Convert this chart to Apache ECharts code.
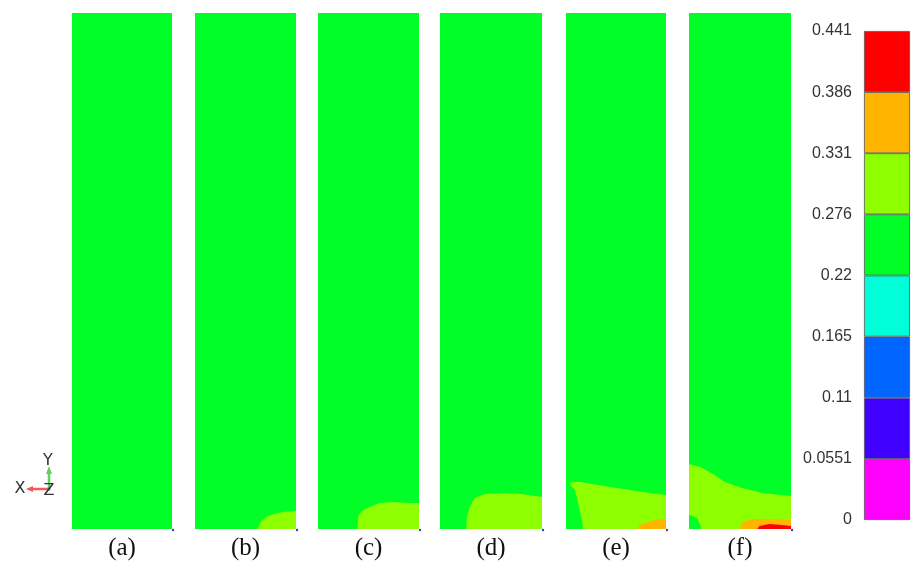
<!DOCTYPE html>
<html>
<head>
<meta charset="utf-8">
<script src="https://cdn.jsdelivr.net/npm/echarts@6/dist/echarts.min.js"></script>
<style>html,body{margin:0;padding:0;background:#fff;}#c{width:913px;height:561px;}</style>
</head>
<body>
<div id="c"></div>
<script>
// ---- data ----
const panelNames = ['(a)', '(b)', '(c)', '(d)', '(e)', '(f)'];
const tickLabels = ['0', '0.0551', '0.11', '0.165', '0.22', '0.276', '0.331', '0.386', '0.441'];
const bandColors = ['#FF00FF', '#4000FF', '#0066FF', '#00FFD9', '#00FF26', '#8EFF00', '#FFB400', '#FF0000'];
const bandCount = [1, 1, 1, 1, 1, 1, 1, 1];
// contour region boundaries, panel units: x 0..100 across, y 0..516 up from bottom
const baseRect = [[0, 0], [100, 0], [100, 516], [0, 516]];
const baseLevel = 4;
const bYellow = [[62, 0], [65, 7], [70, 12], [78, 15], [87, 17], [100, 18], [100, 0]];
const cYellow = [[39, 0], [40, 14], [45, 19], [51, 22], [61, 26], [74, 27], [91, 26], [100, 26], [100, 0]];
const dYellow = [[26, 0], [26, 9], [29, 22], [34, 31], [44, 35], [64, 36], [80, 35], [100, 32], [100, 0]];
const eYellow = [[17, 0], [16, 9], [12, 26], [9, 39], [5, 43], [4, 46], [7, 47], [14, 47], [44, 42], [77, 37], [100, 34], [100, 0]];
const eOrange = [[72, 0], [74, 4], [79, 6], [89, 9], [100, 10], [100, 0]];
const fYellow = [[0, 65], [11, 62], [22, 56], [35, 47], [52, 41], [72, 36], [100, 33], [100, 0], [12, 0], [11, 4], [8, 11], [1, 14], [0, 14]];
const fOrange = [[50, 0], [51, 4], [53, 7], [62, 10], [81, 10], [100, 9], [100, 0]];
const fRed = [[67, 0], [69, 3], [79, 5], [91, 4], [100, 3], [100, 0]];
const panelRegions = [
  [],
  [[5, bYellow]],
  [[5, cYellow]],
  [[5, dYellow]],
  [[5, eYellow], [6, eOrange]],
  [[5, fYellow], [6, fOrange], [7, fRed]]
];

// ---- layout ----
const panelBoxes = [[72, 100], [195, 101], [318, 101], [440, 102], [566, 100], [689, 102]];
const panelTop = 13, panelH = 516;

const chart = echarts.init(document.getElementById('c'), null, {renderer: 'canvas'});
const grid = [], xAxis = [], yAxis = [], series = [];
panelBoxes.forEach((b, i) => {
  grid.push({left: b[0], top: panelTop, width: b[1], height: panelH, show: false, containLabel: false, outerBoundsMode: 'none'});
  xAxis.push({
    gridIndex: i, type: 'value', min: 0, max: 100, show: true,
    axisLine: {show: false}, axisTick: {show: false}, axisLabel: {show: false}, splitLine: {show: false},
    name: panelNames[i], nameLocation: 'middle', nameGap: 7,
    nameTextStyle: {fontSize: 25, fontFamily: 'Liberation Serif', color: '#111'}
  });
  yAxis.push({gridIndex: i, type: 'value', min: 0, max: 516, show: false});
  const regs = [[baseLevel, baseRect]].concat(panelRegions[i]);
  series.push({
    type: 'custom', xAxisIndex: i, yAxisIndex: i, coordinateSystem: 'cartesian2d', silent: true,
    clip: true,
    data: regs.map((r, k) => [50, 258, k]),
    renderItem: function (params, api) {
      const r = regs[params.dataIndex];
      return {
        type: 'polygon',
        shape: {points: r[1].map(p => api.coord(p))},
        style: {fill: bandColors[r[0]], stroke: null}
      };
    }
  });
});
// colour bar
const cbIdx = panelBoxes.length;
grid.push({left: 864, top: 31, width: 46, height: 489, show: false, containLabel: false, outerBoundsMode: 'none'});
xAxis.push({gridIndex: cbIdx, type: 'category', data: [''], show: false});
yAxis.push({
  gridIndex: cbIdx, type: 'value', min: 0, max: 8, interval: 1, position: 'left',
  axisLine: {show: false}, axisTick: {show: false}, splitLine: {show: false},
  axisLabel: {
    fontSize: 16, color: '#333', fontFamily: 'Liberation Sans', margin: 12,
    formatter: v => tickLabels[Math.round(v)]
  }
});
bandColors.forEach((c, k) => {
  series.push({
    type: 'bar', xAxisIndex: cbIdx, yAxisIndex: cbIdx, stack: 'cb', barWidth: '100%', silent: true,
    data: [bandCount[k]],
    itemStyle: {color: c, borderColor: '#555', borderWidth: 0.8}
  });
});

const graphic = [
  // axis triad
  {type: 'line', shape: {x1: 49, y1: 489, x2: 49, y2: 472}, style: {stroke: '#5fd35a', lineWidth: 2.5}},
  {type: 'polygon', shape: {points: [[46, 474], [52, 474], [49, 466]]}, style: {fill: '#5fd35a'}},
  {type: 'line', shape: {x1: 49, y1: 489, x2: 32, y2: 489}, style: {stroke: '#ef5b5b', lineWidth: 2.5}},
  {type: 'polygon', shape: {points: [[33, 486], [33, 492], [26, 489]]}, style: {fill: '#ef5b5b'}},
  {type: 'circle', shape: {cx: 49, cy: 489, r: 1.5}, style: {fill: '#5566dd'}},
  {type: 'text', x: 48, y: 461, style: {text: 'Y', fontSize: 16, fill: '#333', fontFamily: 'DejaVu Sans', align: 'center', verticalAlign: 'middle'}},
  {type: 'text', x: 20, y: 489, style: {text: 'X', fontSize: 16, fill: '#333', fontFamily: 'DejaVu Sans', align: 'center', verticalAlign: 'middle'}},
  {type: 'text', x: 49, y: 491, style: {text: 'Z', fontSize: 16, fill: '#333', fontFamily: 'DejaVu Sans', align: 'center', verticalAlign: 'middle'}}
];
panelBoxes.forEach(b => {
  graphic.push({type: 'circle', shape: {cx: b[0] + b[1] + 1, cy: panelTop + panelH + 1, r: 1.2}, style: {fill: '#3344aa'}});
});

chart.setOption({
  backgroundColor: '#ffffff',
  animation: false,
  grid, xAxis, yAxis, series, graphic
});
</script>
</body>
</html>
